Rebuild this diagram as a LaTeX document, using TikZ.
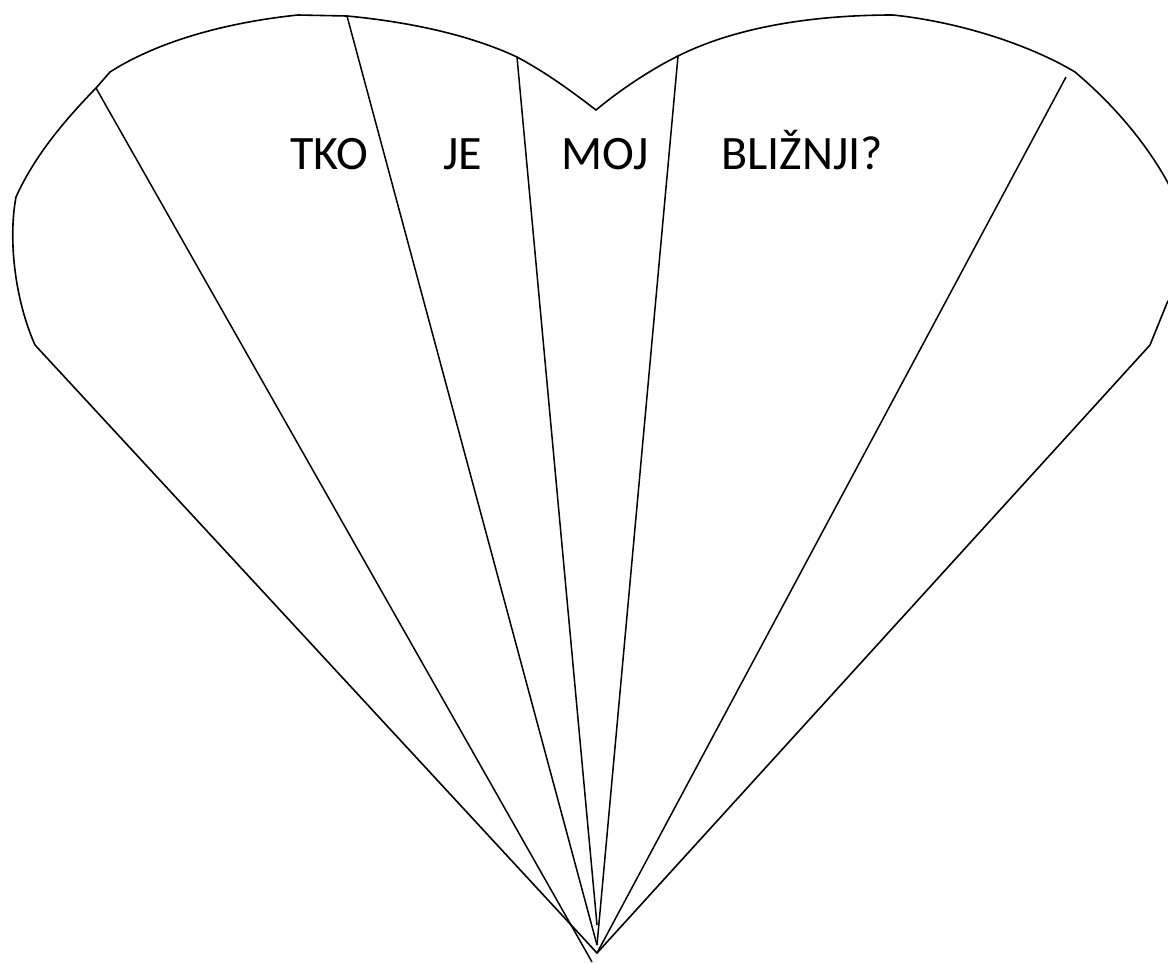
\documentclass[tikz,border=0pt]{standalone}
\usepackage{fontspec}
\setmainfont{Carlito}
\begin{document}
\begin{tikzpicture}[x=1pt,y=-1pt,
  outl/.style={line width=1.6pt,line join=miter},
  fan/.style={line width=1.5pt},
  word/.style={anchor=base,inner sep=0pt,font=\fontsize{48}{58}\selectfont}]
\useasboundingbox (0,0) rectangle (1168,962);
\coordinate (tip) at (597,953);
\coordinate (L1) at (35,345);
\coordinate (L2) at (16,197);
\coordinate (L3) at (96,88);
\coordinate (L4) at (110,72);
\coordinate (T1) at (298,15);
\coordinate (T2) at (347,16);
\coordinate (T3) at (517,57);
\coordinate (notch) at (596,110);
\coordinate (T4) at (678,56);
\coordinate (T5) at (893,15);
\coordinate (R1) at (1075,72);
\coordinate (R2) at (1168,183);
\coordinate (R3) at (1167,303);
\coordinate (R4) at (1150,345);
\draw[outl] (tip) -- (L1) .. controls (15,300) and (8,240) .. (L2)
  .. controls (35,155) and (65,120) .. (L3) -- (L4)
  .. controls (160,40) and (230,22) .. (T1) -- (T2)
  .. controls (410,22) and (470,35) .. (T3)
  .. controls (545,72) and (570,90) .. (notch)
  .. controls (620,90) and (650,70) .. (T4)
  .. controls (740,25) and (820,15) .. (T5)
  .. controls (960,22) and (1030,45) .. (R1)
  .. controls (1120,110) and (1150,150) .. (R2)
  .. controls (1186,222) and (1182,280) .. (R3) -- (R4) -- cycle;
\coordinate (f1) at (592,962);
\coordinate (f2) at (597,945);
\coordinate (f3) at (597,925);
\coordinate (f4) at (597,945);
\coordinate (g5) at (1066,77);
\draw[fan] (L3) -- (f1);
\draw[fan] (T2) -- (f2);
\draw[fan] (T3) -- (f3);
\draw[fan] (T4) -- (f4);
\draw[fan] (g5) -- (tip);
\node[word] (w1) at (329,169) {TKO};
\node[word] (w2) at (463,169) {JE};
\node[word] (w3) at (605,169) {MOJ};
\node[word] (w4) at (802,169) {BLIŽNJI?};
\end{tikzpicture}
\end{document}
